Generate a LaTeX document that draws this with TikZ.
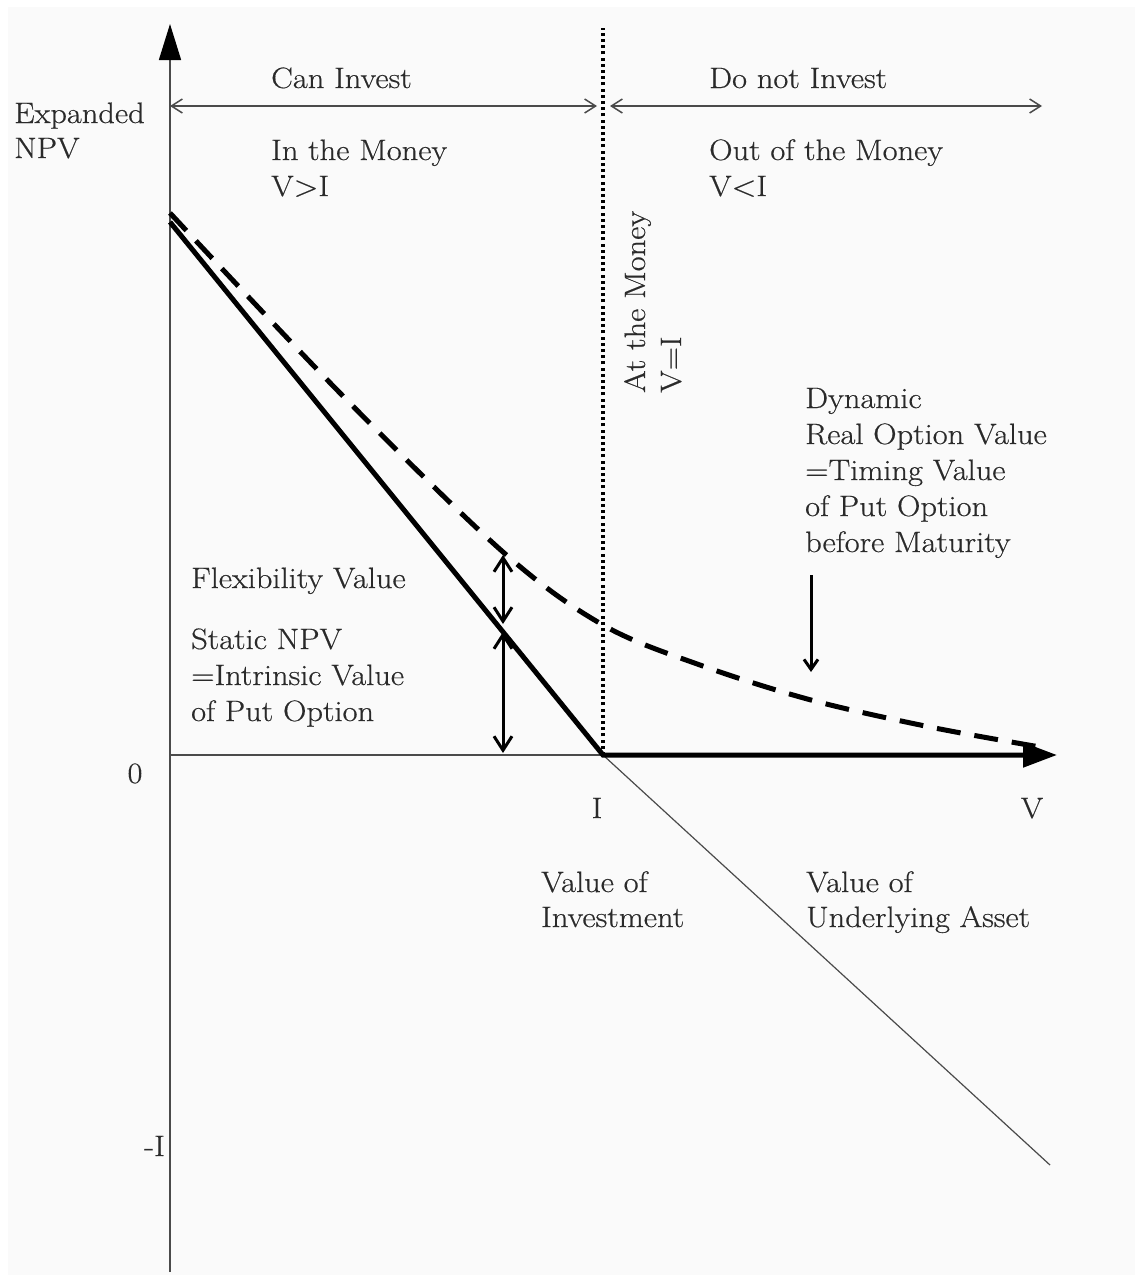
\documentclass[tikz,border=0pt]{standalone}
\usepackage{fontspec}
\setmainfont{Latin Modern Roman}[FakeStretch=1.1, FakeBold=0.5]
\usetikzlibrary{arrows.meta}
\definecolor{paper}{HTML}{FAFAFA}
\definecolor{ink}{HTML}{2A2A2A}
\definecolor{axisgrey}{HTML}{4A4A4A}
\tikzset{
  lbl/.style={anchor=base west, inner sep=0pt, text=ink,
    font=\fontsize{29.5}{36}\selectfont},
  tick/.style={lbl, anchor=base},
  axisline/.style={draw=axisgrey, line width=1.5},
  heavy/.style={draw=black, line width=5, line join=miter},
  regionarrow/.style={draw=axisgrey, line width=1.5,
    {Straight Barb[length=11,width=14]}-{Straight Barb[length=11,width=14]}},
  gaparrow/.style={draw=black, line width=3,
    {Straight Barb[length=14,width=18]}-{Straight Barb[length=14,width=18]}},
}
\begin{document}
\begin{tikzpicture}[x=1pt,y=-1pt]
\useasboundingbox (0,0) rectangle (1135,1275);
\fill[white] (0,0) rectangle (1135,1275);
\fill[paper] (8,7) rectangle (1135,1275);

% key points
\coordinate (O) at (170,755);
\coordinate (Ytop) at (170,24);
\coordinate (Ybot) at (170,1272);
\coordinate (K) at (603,755);
\coordinate (Xend) at (1057,755);
\coordinate (P0) at (170,222);
\coordinate (Nend) at (1050,1165);
\coordinate (Dtop) at (603,28);

% axes
\draw[axisline, -{Triangle[length=36,width=22,color=black]}] (Ybot) -- (Ytop);
\draw[axisline] (O) -- (K);
\draw[axisline, line width=1.2] (K) -- (Nend);

% at-the-money line
\draw[black, line width=3.4, dash pattern=on 3 off 3.2] (K) -- (Dtop);

% static payoff of the put
\draw[heavy, -{Triangle[length=34,width=24]}] (P0) -- (K) -- (Xend);

% expanded value before maturity
\draw[heavy, line cap=butt, dash pattern=on 24 off 14]
  plot[smooth, tension=0.55] coordinates
  {(170,213) (340,393) (503,552) (603,625) (700,665) (811,700) (930,727) (1040,747)};

% region arrows
\coordinate (CL) at (170,106);
\coordinate (CR) at (597,106);
\coordinate (DL) at (610,106);
\coordinate (DR) at (1042,106);
\draw[regionarrow] (CL) -- (CR);
\draw[regionarrow] (DL) -- (DR);

% value brackets
\coordinate (F1) at (503,555);
\coordinate (F2) at (503,624);
\coordinate (S1) at (503,632);
\coordinate (S2) at (503,753);
\draw[gaparrow] (F1) -- (F2);
\draw[gaparrow] (S1) -- (S2);

\coordinate (T1) at (811,575);
\coordinate (T2) at (811,672);
\draw[black, line width=3, -{Straight Barb[length=10,width=14]}] (T1) -- (T2);

% labels
\node[lbl] (ya1) at (14,123) {Expanded};
\node[lbl] (ya2) at (14,158) {NPV};
\node[lbl] (ci) at (271,88) {Can Invest};
\node[lbl] (dni) at (709,88) {Do not Invest};
\node[lbl] (itm1) at (271,160) {In the Money};
\node[lbl] (itm2) at (271,196) {V>I};
\node[lbl] (otm1) at (709,160) {Out of the Money};
\node[lbl] (otm2) at (709,196) {V<I};
\node[lbl, rotate=90] (atm1) at (645,393) {At the Money};
\node[lbl, rotate=90] (atm2) at (681,393) {V=I};
\node[lbl] (flex) at (191,588) {Flexibility Value};
\node[lbl] (st1) at (191,649) {Static NPV};
\node[lbl] (st2) at (191,685) {=Intrinsic Value};
\node[lbl] (st3) at (191,721) {of Put Option};
\node[lbl] (dy1) at (805,408) {Dynamic};
\node[lbl] (dy2) at (805,444) {Real Option Value};
\node[lbl] (dy3) at (805,480) {=Timing Value};
\node[lbl] (dy4) at (805,516) {of Put Option};
\node[lbl] (dy5) at (805,552) {before Maturity};
\node[tick] (zero) at (135,783) {0};
\node[tick] (ilab) at (597,818) {I};
\node[tick] (vlab) at (1032,818) {V};
\node[lbl, anchor=base east] (nilab) at (165,1156) {-I};
\node[lbl] (vi1) at (541,892) {Value of};
\node[lbl] (vi2) at (541,927) {Investment};
\node[lbl] (vu1) at (806,892) {Value of};
\node[lbl] (vu2) at (806,927) {Underlying Asset};
\end{tikzpicture}
\end{document}
